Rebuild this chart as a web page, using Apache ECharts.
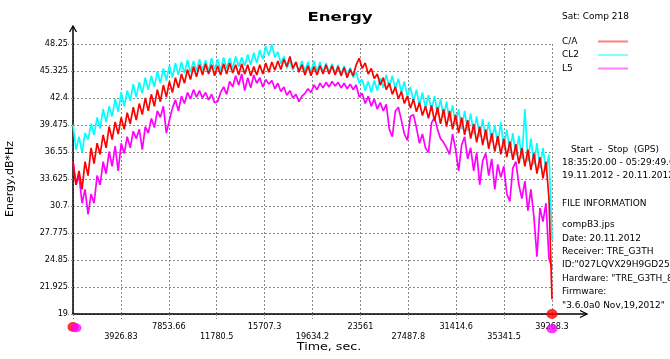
<!DOCTYPE html>
<html>
<head>
<meta charset="utf-8">
<script src="https://cdn.jsdelivr.net/npm/echarts@6/dist/echarts.min.js"></script>
<style>
html,body{margin:0;padding:0;background:#fff;}
#chart{width:670px;height:359px;}
</style>
</head>
<body>
<div id="chart"></div>
<script>
// ---- data ----
const SERIES_NAMES = ['C/A', 'CL2', 'L5'];
const TIME_END = 39268.3;
const X_INTERVAL = 3926.83;
const Y_MIN = 19, Y_MAX = 48.25, Y_INTERVAL = 2.925;
const X_TICK_LABELS = ['', '3926.83', '7853.66', '11780.5', '15707.3', '19634.2', '23561', '27487.8', '31414.6', '35341.5', '39268.3'];
const Y_TICK_LABELS = ['19', '21.925', '24.85', '27.775', '30.7', '33.625', '36.55', '39.475', '42.4', '45.325', '48.25'];

const CA_VALUES = [
35.5, 33.0, 34.5, 32.5, 35.5, 34.0, 37.0, 35.3, 37.5, 36.3,
38.4, 37.0, 39.3, 37.9, 39.8, 38.5, 40.3, 39.0, 40.8, 39.6,
41.4, 40.0, 41.8, 40.6, 42.4, 41.0, 42.8, 41.5, 43.3, 42.0,
43.8, 42.5, 44.2, 43.0, 44.6, 43.5, 45.0, 44.0, 45.5, 44.4,
45.8, 44.7, 46.0, 44.9, 46.1, 45.0, 46.0, 44.8, 45.9, 44.9,
46.1, 45.0, 46.2, 45.1, 46.0, 44.9, 46.1, 45.0, 46.0, 44.8,
45.8, 44.9, 46.0, 45.0, 46.2, 45.2, 46.3, 45.4, 46.4, 45.5,
46.6, 45.8, 46.9, 45.6, 46.3, 45.2, 46.0, 44.9, 45.9, 44.8,
45.8, 44.9, 45.9, 45.0, 46.0, 45.0, 45.9, 44.9, 45.8, 44.8,
45.7, 44.6, 45.5, 44.8, 46.0, 46.7, 45.6, 46.2, 45.0, 45.6,
44.5, 45.0, 43.8, 44.6, 43.3, 44.0, 42.8, 43.6, 42.3, 43.1,
41.8, 42.6, 41.3, 42.3, 40.9, 41.9, 40.5, 41.5, 40.2, 41.6,
39.9, 41.4, 39.6, 41.2, 39.3, 41.0, 39.0, 40.6, 38.6, 40.3,
38.4, 40.0, 38.0, 39.6, 37.6, 39.3, 37.3, 39.0, 36.9, 38.6,
36.6, 38.3, 36.3, 38.0, 36.0, 37.7, 35.7, 37.4, 35.3, 37.0,
35.0, 36.8, 34.6, 36.4, 34.2, 36.0, 33.7, 35.5, 31.5, 20.6
];
const CL2_VALUES = [
39.5, 36.8, 38.2, 36.5, 38.6, 37.9, 39.6, 38.4, 40.3, 39.1,
41.2, 39.8, 41.5, 40.4, 42.3, 40.9, 43.0, 41.5, 43.2, 42.1,
43.9, 42.5, 44.1, 42.9, 44.6, 43.3, 44.8, 43.6, 45.3, 44.0,
45.6, 44.3, 45.9, 44.6, 46.2, 44.9, 46.3, 45.1, 46.5, 45.2,
46.4, 45.3, 46.6, 45.4, 46.5, 45.3, 46.7, 45.5, 46.6, 45.4,
46.8, 45.6, 46.7, 45.6, 46.9, 45.8, 46.8, 45.9, 47.1, 46.0,
47.3, 46.2, 47.6, 46.6, 48.0, 47.0, 48.2, 46.8, 47.4, 46.1,
46.9, 45.6, 46.5, 45.4, 46.3, 45.3, 46.4, 45.3, 46.3, 45.2,
46.4, 45.3, 46.3, 45.2, 46.2, 45.1, 46.1, 45.0, 46.0, 44.9,
45.9, 44.8, 45.7, 44.6, 45.2, 44.0, 44.4, 43.2, 44.2, 43.0,
44.3, 43.2, 44.6, 43.5, 44.9, 43.6, 44.8, 43.4, 44.5, 43.0,
44.2, 42.6, 43.6, 42.0, 43.3, 41.6, 43.0, 41.3, 42.7, 41.0,
42.6, 40.6, 42.3, 40.3, 42.0, 39.9, 41.6, 39.5, 41.2, 39.0,
41.0, 38.8, 40.7, 38.5, 40.4, 38.2, 40.1, 37.9, 39.8, 37.6,
39.5, 37.3, 39.8, 37.0, 39.0, 36.6, 38.6, 36.2, 38.3, 35.8,
41.2, 35.5, 38.0, 35.2, 37.5, 34.8, 37.0, 34.5, 36.3, 27.0
];
const L5_VALUES = [
35.5, 33.0, 34.0, 31.0, 32.5, 29.8, 32.0, 31.0, 34.0, 33.0,
35.5, 34.2, 36.6, 35.0, 37.2, 34.5, 37.5, 36.4, 38.2, 37.0,
38.8, 38.0, 39.0, 36.8, 39.3, 38.6, 40.2, 39.2, 41.0, 40.3,
41.5, 38.6, 40.0, 41.3, 42.2, 41.0, 42.6, 41.8, 43.0, 42.3,
43.3, 42.5, 43.2, 42.4, 43.0, 42.2, 42.8, 41.9, 42.0, 43.0,
43.6, 42.8, 44.2, 43.6, 44.8, 43.8, 45.0, 43.2, 44.6, 43.5,
44.9, 44.0, 44.6, 43.6, 44.4, 43.9, 44.3, 43.4, 44.0, 43.1,
43.6, 42.7, 43.2, 42.4, 42.8, 42.0, 42.6, 42.9, 43.4, 43.0,
43.8, 43.3, 44.0, 43.5, 44.1, 43.6, 44.2, 43.7, 44.1, 43.5,
44.0, 43.4, 43.9, 43.3, 43.8, 42.5, 42.9, 41.8, 42.6, 41.5,
42.3, 41.2, 41.9, 41.0, 41.7, 39.0, 38.2, 41.0, 41.4, 40.0,
38.5, 37.8, 40.4, 40.6, 39.2, 37.5, 38.5, 37.0, 36.5, 39.7,
40.3, 39.0, 38.0, 37.6, 37.0, 36.3, 38.5, 36.8, 34.5, 37.3,
38.2, 35.8, 37.0, 34.5, 36.5, 33.0, 35.6, 36.4, 34.0, 35.8,
32.5, 35.2, 33.8, 35.0, 32.0, 31.2, 34.8, 35.5, 33.0, 31.5,
33.4, 30.2, 32.5, 29.5, 25.2, 30.5, 29.0, 31.0, 25.0, 24.0
];
// end markers (time, level)
const RED_MARKERS = [[0, 17.6], [39268.3, 19]];
const MAGENTA_MARKERS = [[250, 17.5], [39268.3, 17.4]];

const INFO_LINES = [
  'FILE INFORMATION', 'compB3.jps', 'Date: 20.11.2012', 'Receiver: TRE_G3TH',
  'ID:"027LQVX29H9GD25IL"', 'Hardware: "TRE_G3TH_8"', 'Firmware:', '"3.6.0a0 Nov,19,2012"'
];

// ---- build ----
const step = TIME_END / (CA_VALUES.length - 1);
function pairs(vals) { return vals.map((v, i) => [i * step, v]); }

const COLORS = {'C/A': '#ff0000', 'CL2': '#00ffff', 'L5': '#ff00ff'};
const FONT = 'DejaVu Sans';
const TICK_FONT = "'DejaVu Sans Condensed', 'DejaVu Sans'";

const chart = echarts.init(document.getElementById('chart'), null, {renderer: 'canvas'});

const GL = 73, GT = 44, GR = 552, GB = 314;
const axisCol = '#000';

const infoGraphics = [];
const infoY = [204, 225, 239, 252, 265, 279, 292, 306];
INFO_LINES.forEach((t, i) => {
  infoGraphics.push({type: 'text', x: 562, y: infoY[i], style: {text: t, font: '9px ' + FONT, fill: '#000', verticalAlign: 'middle'}});
});

const option = {
  animation: false,
  backgroundColor: '#fff',
  grid: {left: GL, top: GT, right: 670 - GR, bottom: 359 - GB, containLabel: false, outerBoundsMode: 'none'},
  legend: {
    data: SERIES_NAMES,
    orient: 'vertical',
    left: 562, top: 37,
    padding: 0,
    align: 'right',
    icon: 'rect',
    itemWidth: 30, itemHeight: 2, itemGap: 4.5,
    itemStyle: {opacity: 0.5},
    formatter: function (n) { return '{a|' + n + '}'; },
    textStyle: {fontFamily: FONT, fontSize: 9, color: '#000',
      rich: {a: {fontFamily: FONT, fontSize: 9, color: '#000', width: 31, align: 'left'}}},
    selectedMode: false
  },
  xAxis: {
    type: 'value', min: 0, max: TIME_END, interval: X_INTERVAL,
    axisLine: {show: true, onZero: false, lineStyle: {color: axisCol, width: 1.5}},
    axisTick: {show: true, length: 5, lineStyle: {color: '#888', type: [2, 2]}},
    axisLabel: {
      margin: 8, fontSize: 9, lineHeight: 10, color: '#000', fontFamily: TICK_FONT,
      showMinLabel: true, showMaxLabel: true,
      formatter: function (v) {
        const k = Math.round(v / X_INTERVAL);
        const s = X_TICK_LABELS[k] || '';
        return (k % 2 === 1) ? '\n' + s : s;
      }
    },
    splitLine: {show: true, lineStyle: {color: '#888', type: [2, 2], width: 1}}
  },
  yAxis: {
    type: 'value', min: Y_MIN, max: Y_MAX, interval: Y_INTERVAL,
    name: 'Energy,dB*Hz', nameLocation: 'middle', nameGap: 57, nameRotate: 90,
    nameTextStyle: {fontFamily: FONT, fontSize: 11, color: '#000'},
    axisLine: {show: true, lineStyle: {color: axisCol, width: 1.5}},
    axisTick: {show: true, length: 5, lineStyle: {color: '#888', type: [2, 2]}},
    axisLabel: {
      margin: 5, fontSize: 9, color: '#000', fontFamily: TICK_FONT,
      formatter: function (v) {
        const k = Math.round((v - Y_MIN) / Y_INTERVAL);
        return Y_TICK_LABELS[k] || '';
      }
    },
    splitLine: {show: true, lineStyle: {color: '#888', type: [2, 2], width: 1}}
  },
  series: [
    {name: 'CL2', type: 'line', data: pairs(CL2_VALUES), showSymbol: false, symbol: 'none',
      lineStyle: {color: COLORS['CL2'], width: 1.7}, itemStyle: {color: COLORS['CL2']}, z: 2},
    {name: 'L5', type: 'line', data: pairs(L5_VALUES), showSymbol: false, symbol: 'none',
      lineStyle: {color: COLORS['L5'], width: 1.7}, itemStyle: {color: COLORS['L5']}, z: 3},
    {name: 'C/A', type: 'line', data: pairs(CA_VALUES), showSymbol: false, symbol: 'none',
      lineStyle: {color: COLORS['C/A'], width: 1.7}, itemStyle: {color: COLORS['C/A']}, z: 4},
    {name: 'redMarkers', type: 'scatter', data: RED_MARKERS, symbol: 'circle', symbolSize: [11, 10],
      itemStyle: {color: '#ff0000'}, clip: false, z: 10, silent: true},
    {name: 'magentaMarkers', type: 'scatter', data: MAGENTA_MARKERS, symbol: 'circle', symbolSize: [11, 9],
      itemStyle: {color: '#ff00ff'}, clip: false, z: 11, silent: true}
  ],
  graphic: [
    {type: 'text', x: 340, y: 18, scaleX: 1.38, originX: 0, style: {text: 'Energy', font: 'bold 12px ' + FONT, fill: '#000', align: 'center', verticalAlign: 'middle'}},
    {type: 'text', x: 329, y: 347, scaleX: 1.15, originX: 0, style: {text: 'Time, sec.', font: '11px ' + FONT, fill: '#000', align: 'center', verticalAlign: 'middle'}},
    {type: 'text', x: 562, y: 17, style: {text: 'Sat: Comp 218', font: '9px ' + FONT, fill: '#000', verticalAlign: 'middle'}},
    {type: 'text', x: 571, y: 150, style: {text: 'Start  -  Stop  (GPS)', font: '9px ' + FONT, fill: '#000', verticalAlign: 'middle'}},
    {type: 'text', x: 562, y: 163, style: {text: '18:35:20.00 - 05:29:49.00', font: '9px ' + FONT, fill: '#000', verticalAlign: 'middle'}},
    {type: 'text', x: 562, y: 176, style: {text: '19.11.2012 - 20.11.2012', font: '9px ' + FONT, fill: '#000', verticalAlign: 'middle'}},
    // axis arrow extensions
    {type: 'line', shape: {x1: GL, y1: GT, x2: GL, y2: 26}, style: {stroke: '#000', lineWidth: 1.5}, z: 5},
    {type: 'polyline', shape: {points: [[GL - 3.5, 32], [GL, 26], [GL + 3.5, 32]]}, style: {stroke: '#000', lineWidth: 1.3, fill: null}, z: 5},
    {type: 'line', shape: {x1: GR, y1: GB, x2: 587, y2: GB}, style: {stroke: '#000', lineWidth: 1.5}, z: 5},
    {type: 'polyline', shape: {points: [[580, GB - 3.5], [587, GB], [580, GB + 3.5]]}, style: {stroke: '#000', lineWidth: 1.3, fill: null}, z: 5}
  ].concat(infoGraphics)
};
chart.setOption(option);
</script>
</body>
</html>
